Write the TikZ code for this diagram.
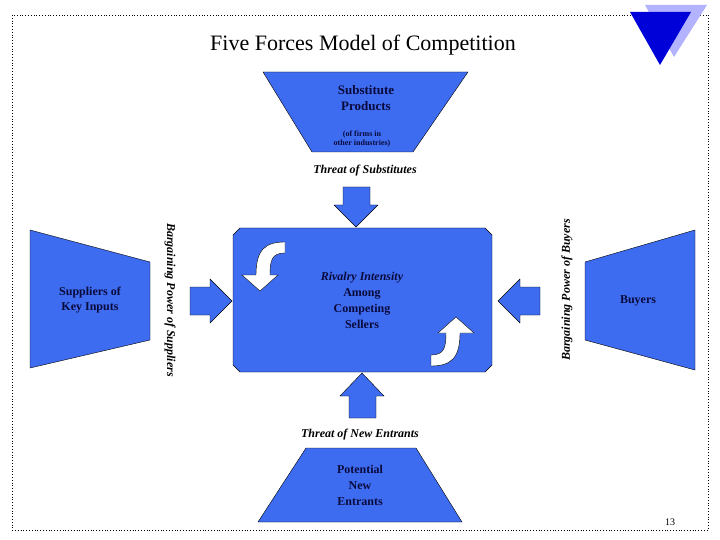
\documentclass[tikz,border=0pt]{standalone}
\usepackage{fontspec}
\setmainfont{Liberation Serif}
\definecolor{forceblue}{RGB}{62,108,240}
\definecolor{inkblue}{RGB}{10,10,60}
\tikzset{
	force/.style = {
		fill = forceblue,
		draw = black,
		thin
	},
	forcetext/.style = {
		font = \bfseries,
		text = inkblue,
		align = center
	},
}

\begin{document}
\begin{tikzpicture}[x = 1pt, y = -1pt,
		threat/.style = {
			font = \bfseries\itshape\fontsize{12}{14}\selectfont,
			text = black
		}]
		\useasboundingbox (0, 0) rectangle (720, 540);
		\draw[dotted, thick] (12, 15) rectangle (708, 530);
		% logo triangles
		\fill[blue!30] (645, 5) -- (707, 5) -- (674, 57) -- cycle;
		\fill[blue!85!black] (630, 12) -- (691, 12) -- (660, 65) -- cycle;
		\node[font = \fontsize{22}{24}\selectfont] (title) at (363, 45) {Five Forces Model of Competition};
		% the forces
		\draw[force] (263, 72) -- (468, 72) -- (413, 152) -- (312, 152) -- cycle;
		\node[forcetext, font = \bfseries\fontsize{13}{16}\selectfont] (subst) at (366, 98) {Substitute\\Products};
		\node[forcetext, font = \bfseries\fontsize{8}{9}\selectfont] (substnote) at (362, 139) {(of firms in\\other industries)};
		\draw[force] (30, 230) -- (150, 262) -- (150, 340) -- (30, 368) -- cycle;
		\node[forcetext, font = \bfseries\fontsize{12}{15}\selectfont] (suppliers) at (90, 300) {Suppliers of\\Key Inputs};
		\draw[force] (585, 262) -- (695, 230) -- (695, 370) -- (585, 340) -- cycle;
		\node[forcetext, font = \bfseries\fontsize{12}{15}\selectfont] (buyers) at (638, 301) {Buyers};
		\draw[force] (306, 448) -- (416, 448) -- (462, 522) -- (258, 522) -- cycle;
		\node[forcetext, font = \bfseries\fontsize{12}{16}\selectfont] (entrants) at (360, 485) {Potential\\New\\Entrants};
		% rivalry box
		\draw[force] (240, 228) -- (485, 228) -- (492, 235) -- (492, 365) -- (485, 372)
			-- (240, 372) -- (233, 365) -- (233, 235) -- cycle;
		\node[forcetext, font = \bfseries\fontsize{12}{16}\selectfont] (rivalry) at (362, 300) {\textit{Rivalry Intensity}\\Among\\Competing\\Sellers};
		\draw[fill = white, draw = black] (285, 242) -- (285, 253) .. controls (272, 253) and (270, 260) .. (270, 275)
			-- (278, 275) -- (260, 291) -- (242, 275) -- (256, 275) .. controls (256, 250) and (265, 242) .. (285, 242) -- cycle;
		\draw[fill = white, draw = black, rotate around = {180:(358, 304)}] (285, 242) -- (285, 253) .. controls (272, 253) and (270, 260) .. (270, 275)
			-- (278, 275) -- (260, 291) -- (242, 275) -- (256, 275) .. controls (256, 250) and (265, 242) .. (285, 242) -- cycle;
		% pressure arrows
		\draw[force] (343, 187) -- (370, 187) -- (370, 205) -- (378, 205) -- (356, 227) -- (334, 205) -- (343, 205) -- cycle;
		\draw[force] (349, 418) -- (376, 418) -- (376, 396) -- (384, 396) -- (362, 373) -- (340, 396) -- (349, 396) -- cycle;
		\draw[force] (190, 287) -- (210, 287) -- (210, 279) -- (232, 301) -- (210, 323) -- (210, 315) -- (190, 315) -- cycle;
		\draw[force] (540, 287) -- (520, 287) -- (520, 279) -- (498, 301) -- (520, 323) -- (520, 315) -- (540, 315) -- cycle;
		% labels of the forces
		\node[threat] (tsub) at (365, 171) {Threat of Substitutes};
		\node[threat] (tnew) at (360, 435) {Threat of New Entrants};
		\node[threat, rotate = -90] (bsup) at (170, 300) {Bargaining Power of Suppliers};
		\node[threat, rotate = 90] (bbuy) at (567, 290) {Bargaining Power of Buyers};
		\node[font = \fontsize{10}{12}\selectfont] (page) at (670, 522) {13};
	\end{tikzpicture}
\end{document}
